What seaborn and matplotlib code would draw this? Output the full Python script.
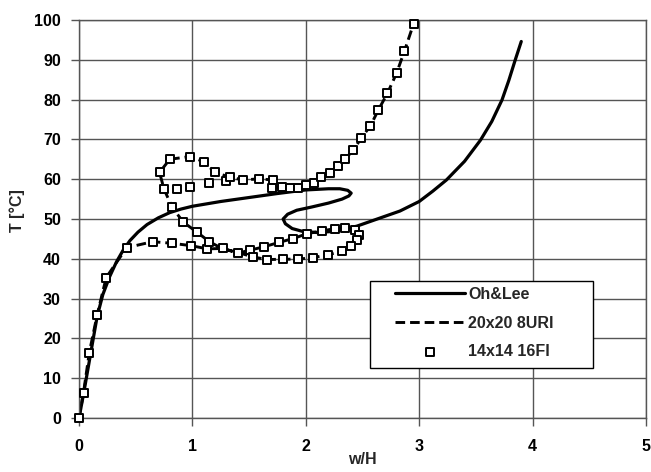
import matplotlib
matplotlib.use("Agg")
import matplotlib.pyplot as plt
from matplotlib.patches import Rectangle
import seaborn as sns
import pandas as pd

# ---- data ----
ohlee_x = [0.0, 0.04, 0.08, 0.12, 0.16, 0.21, 0.27, 0.33, 0.39, 0.45, 0.52, 0.60, 0.70,
           0.80, 0.90, 1.00, 1.25, 1.50, 1.75, 2.00, 2.20, 2.30, 2.37, 2.40, 2.38, 2.32,
           2.20, 2.05, 1.92, 1.84, 1.80, 1.82, 1.88, 1.97, 2.10, 2.25, 2.45, 2.65, 2.83,
           3.00, 3.12, 3.24, 3.40, 3.54, 3.64, 3.73, 3.79, 3.845, 3.90]
ohlee_y = [0.0, 6.0, 12.5, 19.0, 25.5, 31.0, 35.5, 39.2, 42.2, 44.6, 46.7, 48.6, 50.3,
           51.6, 52.5, 53.2, 54.4, 55.4, 56.4, 57.3, 57.6, 57.6, 57.2, 56.5, 55.8, 55.0,
           54.0, 53.0, 52.2, 51.2, 50.0, 48.8, 47.6, 46.9, 46.6, 46.9, 48.2, 50.2, 52.0,
           54.4, 57.0, 59.8, 64.5, 69.8, 74.5, 79.9, 84.8, 89.8, 94.6]

uri_x = [0.0, 0.04, 0.09, 0.16, 0.24, 0.42, 0.65, 0.82, 0.99, 1.13, 1.27, 1.40, 1.51, 1.63,
         1.76, 1.89, 2.01, 2.14, 2.26, 2.35, 2.43, 2.47, 2.45, 2.40, 2.32, 2.20, 2.06, 1.93,
         1.80, 1.66, 1.53, 1.40, 1.26, 1.15, 1.04, 0.92, 0.82, 0.75, 0.71, 0.80, 0.98, 1.10,
         1.20, 1.33, 1.45, 1.59, 1.71, 1.70, 1.79, 1.86, 1.93, 2.00, 2.07, 2.13, 2.21, 2.28,
         2.35, 2.42, 2.49, 2.57, 2.64, 2.72, 2.80, 2.87, 2.95]
uri_y = [0.0, 6.4, 16.3, 25.9, 35.3, 42.8, 44.3, 43.9, 43.3, 42.5, 42.6, 41.4, 42.2, 43.0,
         44.1, 45.1, 46.3, 47.0, 47.6, 47.7, 47.2, 46.0, 44.7, 43.3, 42.0, 41.0, 40.3, 39.9,
         39.9, 39.8, 40.5, 41.6, 42.6, 44.3, 46.7, 49.2, 53.0, 57.5, 61.7, 65.0, 65.7, 64.4,
         61.7, 60.5, 59.8, 60.1, 59.8, 57.9, 58.0, 57.9, 57.9, 58.5, 59.1, 60.5, 61.6, 63.3,
         65.2, 67.3, 70.4, 73.4, 77.4, 81.6, 86.6, 92.2, 99.0]

fi_x = [0.0, 0.04, 0.09, 0.16, 0.24, 0.42, 0.65, 0.82, 0.99, 1.13, 1.27, 1.40, 1.51, 1.63,
        1.76, 1.89, 2.01, 2.14, 2.26, 2.35, 2.43, 2.47, 2.45, 2.40, 2.32, 2.20, 2.06, 1.93,
        1.80, 1.66, 1.53, 1.15, 1.04, 0.92, 0.82, 0.75, 0.86, 0.98, 1.15, 1.30,
        0.71, 0.80, 0.98, 1.10, 1.20, 1.33, 1.45, 1.59, 1.71, 1.70, 1.79, 1.86, 1.93,
        2.00, 2.07, 2.13, 2.21, 2.28, 2.35, 2.42, 2.49, 2.57, 2.64, 2.72, 2.80, 2.87, 2.95]
fi_y = [0.0, 6.4, 16.3, 25.9, 35.3, 42.8, 44.3, 43.9, 43.3, 42.5, 42.6, 41.4, 42.2, 43.0,
        44.1, 45.1, 46.3, 47.0, 47.6, 47.7, 47.2, 46.0, 44.7, 43.3, 42.0, 41.0, 40.3, 39.9,
        39.9, 39.8, 40.5, 44.3, 46.7, 49.2, 53.0, 57.5, 57.5, 58.1, 59.0, 59.6,
        61.7, 65.0, 65.7, 64.4, 61.7, 60.5, 59.8, 60.1, 59.8, 57.9, 58.0, 57.9, 57.9,
        58.5, 59.1, 60.5, 61.6, 63.3, 65.2, 67.3, 70.4, 73.4, 77.4, 81.6, 86.6, 92.2, 99.0]

labels = ["Oh&Lee", "20x20 8URI", "14x14 16FI"]
x_ticks = [0, 1, 2, 3, 4, 5]
y_ticks = [0, 10, 20, 30, 40, 50, 60, 70, 80, 90, 100]

df_oh = pd.DataFrame({"x": ohlee_x, "y": ohlee_y})
df_uri = pd.DataFrame({"x": uri_x, "y": uri_y})
df_fi = pd.DataFrame({"x": fi_x, "y": fi_y})

sns.set_theme(style="white")
plt.rcParams["font.family"] = ["Liberation Sans", "DejaVu Sans"]
plt.rcParams["font.weight"] = "bold"

fig = plt.figure(figsize=(6.51, 4.72), dpi=100)
ax = fig.add_axes([79 / 651, 1 - 418 / 472, (646 - 79) / 651, (418 - 20) / 472])

grid_c = "#555555"
ax.set_axisbelow(True)
ax.grid(True, color=grid_c, linewidth=1.0)

sns.lineplot(data=df_oh, x="x", y="y", sort=False, estimator=None, ax=ax,
             color="black", linewidth=2.3, label=labels[0])
sns.lineplot(data=df_uri, x="x", y="y", sort=False, estimator=None, ax=ax,
             color="black", linewidth=2.1, label=labels[1])
ax.lines[-1].set_dashes((3.3, 1.7))
sns.scatterplot(data=df_fi, x="x", y="y", ax=ax, marker="s", s=40,
                facecolor="white", edgecolor="black", linewidth=1.4,
                label=labels[2], zorder=3, clip_on=False)

ax.set_xlim(0, 5)
ax.set_ylim(0, 100)
ax.set_xticks(x_ticks)
ax.set_yticks(y_ticks)
ax.set_xticklabels([str(v) for v in x_ticks], fontsize=11.5, fontweight="bold")
ax.set_yticklabels([str(v) for v in y_ticks], fontsize=11.5, fontweight="bold")
ax.tick_params(axis="both", which="major", direction="out", length=6, width=1,
               color=grid_c, pad=7, labelcolor="black")
ax.tick_params(axis="x", pad=9)
ax.tick_params(bottom=True, left=True)
for sp in ax.spines.values():
    sp.set_color(grid_c)
    sp.set_linewidth(1.0)

ax.set_xlabel("w/H", fontsize=11.5, fontweight="bold")
ax.set_ylabel("T [°C]", fontsize=11.5, fontweight="bold")
ax.xaxis.set_label_coords(0.5, -0.085)
ax.yaxis.set_label_coords(-0.095, 0.52)

# legend box
box = Rectangle(((370 - 79) / 567, (418 - 368) / 398), (593 - 370) / 567, (368 - 281) / 398,
                transform=ax.transAxes, facecolor="white", edgecolor="black",
                linewidth=1.0, zorder=4)
ax.add_patch(box)
leg = ax.legend(loc="upper left", bbox_to_anchor=((395 - 79) / 567, (418 - 287) / 398),
                frameon=False, borderpad=0, borderaxespad=0, handlelength=4.4,
                handletextpad=0.2, labelspacing=0.85, markerscale=0.8,
                prop={"size": 11.5, "weight": "bold"})
leg.set_zorder(5)

fig.savefig("out.png", dpi=100)
